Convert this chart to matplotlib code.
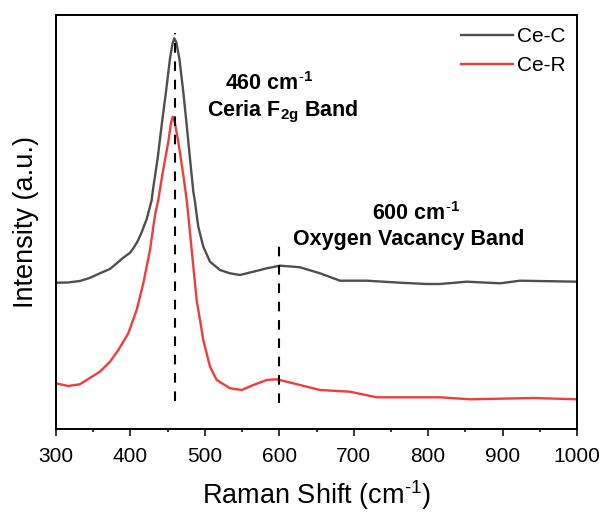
import matplotlib
matplotlib.use("Agg")
import matplotlib.pyplot as plt
from matplotlib.ticker import MultipleLocator

plt.rcParams["font.family"] = ["Liberation Sans", "DejaVu Sans"]
plt.rcParams["mathtext.fontset"] = "custom"
plt.rcParams["mathtext.rm"] = "Liberation Sans"
plt.rcParams["mathtext.bf"] = "Liberation Sans:bold"
plt.rcParams["mathtext.default"] = "rm"

# Raman shift (cm^-1) and intensity (a.u.) for each sample
shift_c = [300, 316, 332, 345, 359, 372.5, 381.6, 390.4, 399.4, 403.9, 409.5,
           415.1, 421.9, 428.6, 429.9, 436.6, 442, 447.8, 453.2, 456.5, 458.9,
           461.5, 465.7, 471, 475.6, 480, 484.5, 486.8, 489, 491.2, 497.9,
           506.9, 520.3, 533.8, 547.2, 565.1, 583.1, 601, 618.8, 627.8, 654.7,
           681.6, 717.4, 762.2, 798, 816, 851.8, 897, 923.4, 1000]
ce_c = [146.3, 146.5, 148, 151, 155.7, 160, 165.7, 171.3, 176.2, 180.7, 187.5,
        196.7, 210, 229, 237.3, 270.7, 304, 337.3, 370.7, 385, 390.7,
        387, 370.7, 337.3, 304, 270.7, 237.3, 227, 214, 202.3, 182.3,
        167.3, 159, 155.7, 154, 157.3, 160.7, 163.3, 162.3, 161.7, 155.7,
        148.3, 148.3, 146.3, 145, 145, 147.3, 145.7, 148.3, 147.3]

shift_r = [300, 316.5, 332, 359, 372.5, 383.7, 397.1, 408.4, 417.3, 426.3,
           433, 437.4, 442.8, 450.9, 454.5, 456.8, 459.5, 464.3, 471, 475.6,
           477.7, 482.3, 489, 497.9, 506.9, 515.9, 533.8, 549.5, 565.1, 583.1,
           596.5, 609.9, 627.8, 654.7, 695, 730.9, 762.2, 816, 856.2, 896.5,
           941.3, 1000]
ce_r = [45.7, 43, 44.7, 57.3, 67.3, 79, 95.7, 119, 145.7, 179,
        214, 229, 254, 287.3, 306, 312.3, 307, 287.3, 254, 229,
        214, 179, 129, 89, 62.3, 49, 40.7, 39, 44, 49,
        49.7, 47.3, 44, 39, 37.3, 31.7, 31.7, 31.7, 29.7, 30.3,
        31, 29.7]

band_pos = [460, 600]
band_top = [396, 187]
band_bottom = [28, 26]

fig = plt.figure(figsize=(6.05, 5.16), dpi=100)
ax = fig.add_axes([56 / 605, 87 / 516, 521 / 605, 414 / 516])

ax.plot(shift_c, ce_c, color="#4f4f4f", lw=1.7, label="Ce-C")
ax.plot(shift_r, ce_r, color="#f23c3c", lw=1.7, label="Ce-R")

for xp, y0, y1 in zip(band_pos, band_bottom, band_top):
    ax.plot([xp, xp], [y0, y1], color="black", lw=1.5,
            linestyle=(0, (4.6, 4.2)))

ann = dict(fontsize=15.5, fontweight="bold", ha="center", va="baseline")
ax.text(586, 338.5, r"460 cm$^{\mathbf{\text{-}1}}$", **ann)
ax.text(605, 312.5, r"Ceria F$_{\mathbf{2g}}$ Band", **ann)
ax.text(783.7, 209, r"600 cm$^{\mathbf{\text{-}1}}$", **ann)
ax.text(773.3, 183.5, "Oxygen Vacancy Band", **ann)

ax.set_xlim(300, 1000)
ax.set_ylim(0, 414)
ax.set_yticks([])
ax.xaxis.set_major_locator(MultipleLocator(100))
ax.xaxis.set_minor_locator(MultipleLocator(50))
ax.tick_params(axis="x", which="major", direction="out", length=4.8,
               width=1.1, labelsize=15, pad=8)
ax.tick_params(axis="x", which="minor", direction="out", length=2.4,
               width=1.1)
for sp in ax.spines.values():
    sp.set_linewidth(1.4)

ax.set_xlabel(r"Raman Shift (cm$^{\text{-}1}$)", fontsize=19.5, labelpad=9)
ax.set_ylabel("Intensity (a.u.)", fontsize=19.5, labelpad=12)

ax.legend(loc="upper right", bbox_to_anchor=(0.979, 0.970), frameon=False,
          fontsize=15, handlelength=2.5, handletextpad=0.2,
          labelspacing=0.45, borderaxespad=0, borderpad=0)

fig.savefig("out.png", dpi=100)
